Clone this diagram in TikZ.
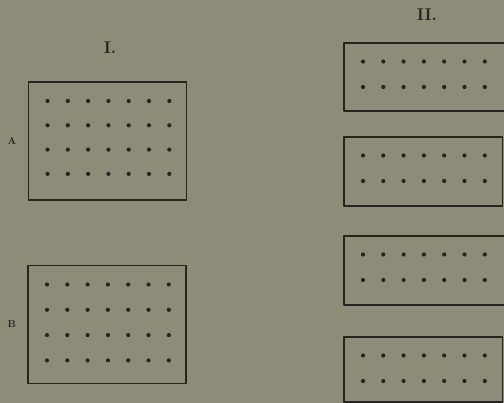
\documentclass[tikz,border=0pt]{standalone}
\usepackage{tikz}
\usetikzlibrary{positioning,calc}
\definecolor{paper}{HTML}{8E8B79}
\definecolor{ink}{HTML}{25241F}
\tikzset{
    every picture/.style={line cap=round,line join=round},
    tray/.style={draw=ink,line width=1.3pt,inner sep=0pt,outer sep=0pt,
      minimum width=158pt,minimum height=118pt},
    strip/.style={draw=ink,line width=1.3pt,inner sep=0pt,outer sep=0pt,
      minimum width=158.5pt,minimum height=68pt,anchor=north west},
    heading/.style={font=\fontsize{17}{17}\selectfont\bfseries,text=ink,inner sep=0pt},
    sidelabel/.style={font=\fontsize{10}{10}\selectfont\bfseries,text=ink,inner sep=0pt}
}
\begin{document}
\begin{tikzpicture}[x=1pt,y=-1pt]
    \fill[paper] (0,0) rectangle (504,403);
    \useasboundingbox (0,0) rectangle (504,403);
    % column I
    \node[heading] (headI) at (110,48) {I.};
    \node[tray] (trayA) at (107.5,141) {};
    \node[tray] (trayB) at (107,324.5) {};
    \node[sidelabel,left=12pt of trayA] (labA) {A};
    \node[sidelabel,left=12pt of trayB] (labB) {B};
    \foreach \t/\dy in {trayA/24.3,trayB/25.3}
      \foreach \i in {0,...,6}
        \foreach \j in {0,...,3}
          \fill[ink] ($(\t.north west)+(19+20.3*\i,19+\dy*\j)$) circle (2.1);
    % column II
    \node[heading] (headII) at (427,15) {II.};
    \node[strip,minimum width=170pt] (stripA) at (344,43) {};
    \node[strip,minimum height=69pt] (stripB) at (344,137) {};
    \node[strip,minimum width=170pt,minimum height=69pt] (stripC) at (344,236) {};
    \node[strip,minimum height=65pt] (stripD) at (344,337) {};
    \foreach \s in {stripA,stripB,stripC,stripD}
      \foreach \i in {0,...,6}
        \foreach \j in {0,1}
          \fill[ink] ($(\s.north west)+(19+20.3*\i,18.5+25.5*\j)$) circle (2.1);
\end{tikzpicture}
\end{document}
